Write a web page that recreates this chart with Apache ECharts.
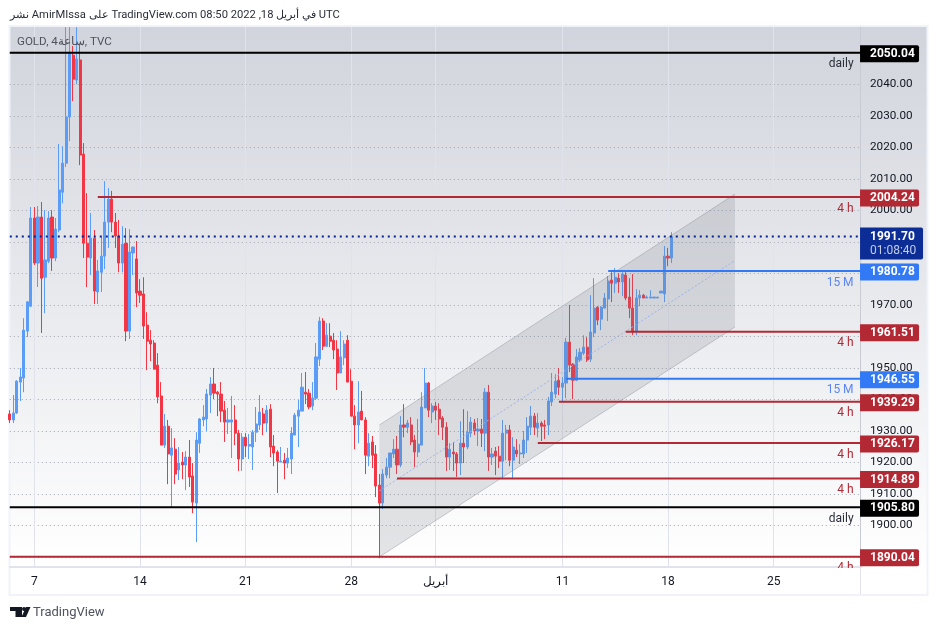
<!DOCTYPE html>
<html>
<head>
<meta charset="utf-8">
<title>GOLD</title>
<script src="https://cdn.jsdelivr.net/npm/echarts@6/dist/echarts.min.js"></script>
<style>
    html, body { margin: 0; padding: 0; background: #fff; }
    #chart { width: 938px; height: 630px; }
</style>
</head>
<body>
<div id="chart"></div>
<script>
var FONT = 'Roboto, "Noto Sans", sans-serif';

// candles
var opens = [
    1935.4, 1933.5, 1935.7, 1945.5, 1946.8, 1961.7, 1969.6, 1997.6, 1983.3, 1997.9,
    1978.8, 1983.9, 1997.9, 1984.9, 1993.8, 2005.8, 2015.0, 2029.7, 2049.3, 2041.4,
    2047.8, 2017.9, 1989.6, 1984.9, 1991.2, 1974.1, 1980.4, 1985.5, 1996.3, 2003.6,
    1996.3, 1991.9, 1983.3, 1989.6, 1961.7, 1986.5, 1984.6, 1974.4, 1973.5, 1963.6,
    1958.8, 1957.9, 1950.9, 1941.1, 1925.5, 1931.5, 1922.3, 1924.2, 1917.6, 1920.1,
    1919.2, 1921.7, 1915.7, 1907.1, 1926.1, 1933.5, 1933.8, 1941.4, 1944.9, 1942.3,
    1941.7, 1936.6, 1932.8, 1932.8, 1933.5, 1929.3, 1921.1, 1928.0, 1925.2, 1924.9,
    1929.6, 1931.9, 1935.4, 1932.5, 1936.9, 1925.2, 1923.3, 1920.1, 1920.7, 1919.8,
    1921.1, 1928.7, 1934.7, 1936.3, 1942.3, 1942.0, 1937.9, 1940.4, 1952.8, 1964.9,
    1956.9, 1960.1, 1958.8, 1956.0, 1948.4, 1953.2, 1958.8, 1945.8, 1934.7, 1931.9,
    1936.3, 1933.5, 1922.0, 1926.5, 1922.7, 1912.8, 1907.1, 1916.0, 1918.5, 1922.7,
    1924.2, 1919.2, 1931.9, 1931.2, 1931.9, 1927.1, 1923.3, 1925.5, 1937.3, 1945.2,
    1936.0, 1937.9, 1936.9, 1934.1, 1931.2, 1921.7, 1923.3, 1922.7, 1919.8, 1926.1,
    1924.9, 1929.3, 1932.5, 1930.0, 1930.6, 1929.3, 1942.3, 1921.7, 1923.6, 1922.0,
    1920.4, 1929.3, 1930.3, 1920.7, 1923.9, 1922.7, 1922.7, 1927.1, 1931.2, 1934.7,
    1930.9, 1932.5, 1931.9, 1931.9, 1939.2, 1941.7, 1946.1, 1943.9, 1945.2, 1958.2,
    1951.2, 1946.1, 1952.5, 1954.7, 1956.6, 1952.8, 1961.1, 1969.3, 1965.5, 1969.0,
    1971.9, 1977.9, 1976.9, 1978.5, 1977.3, 1979.5, 1972.5, 1969.0, 1961.7, 1972.2,
    1973.1, 1972.2, 1972.2, 1972.2, 1972.2, 1973.8, 1973.5, 1985.5, 1984.9
];
var closes = [
    1933.5, 1935.7, 1945.8, 1947.1, 1962.0, 1971.0, 1997.6, 1983.3, 1997.9, 1978.5,
    1984.3, 1997.6, 1984.9, 1994.1, 2006.5, 2015.0, 2029.7, 2050.3, 2041.7, 2048.1,
    2017.6, 1989.6, 1985.2, 1991.2, 1974.4, 1980.8, 1985.5, 1996.3, 2003.6, 1996.3,
    1991.9, 1983.3, 1989.3, 1961.7, 1986.8, 1988.4, 1973.8, 1973.1, 1963.3, 1958.5,
    1957.6, 1949.6, 1940.8, 1925.5, 1931.5, 1922.7, 1924.6, 1916.3, 1919.8, 1919.2,
    1921.7, 1915.4, 1907.4, 1927.1, 1933.8, 1934.4, 1941.7, 1944.9, 1942.0, 1941.7,
    1936.3, 1932.8, 1933.5, 1933.5, 1929.3, 1921.1, 1928.0, 1925.2, 1925.7, 1929.6,
    1932.2, 1936.0, 1932.5, 1936.6, 1924.9, 1923.0, 1920.4, 1920.4, 1919.8, 1921.4,
    1929.3, 1935.0, 1936.6, 1943.9, 1941.7, 1937.6, 1940.4, 1953.5, 1964.9, 1956.9,
    1960.4, 1958.5, 1955.7, 1948.4, 1953.5, 1957.6, 1945.5, 1934.7, 1931.9, 1936.0,
    1933.5, 1922.3, 1926.1, 1922.3, 1912.5, 1907.1, 1916.3, 1918.5, 1923.0, 1924.2,
    1919.2, 1931.9, 1931.2, 1932.5, 1926.5, 1923.3, 1925.8, 1937.6, 1945.2, 1936.6,
    1937.9, 1936.6, 1933.8, 1931.2, 1921.7, 1924.2, 1922.7, 1919.8, 1926.1, 1924.9,
    1929.6, 1932.8, 1930.0, 1930.6, 1929.3, 1942.3, 1921.7, 1922.7, 1922.0, 1920.4,
    1929.3, 1930.3, 1920.7, 1924.9, 1922.7, 1923.0, 1927.1, 1931.5, 1934.7, 1931.2,
    1932.5, 1931.5, 1931.5, 1939.5, 1942.3, 1945.8, 1943.9, 1945.2, 1958.2, 1950.9,
    1946.1, 1953.5, 1955.0, 1956.6, 1952.5, 1961.4, 1969.0, 1965.2, 1969.3, 1972.2,
    1977.6, 1976.9, 1978.8, 1977.3, 1979.8, 1972.2, 1969.0, 1961.4, 1972.2, 1973.1,
    1972.2, 1972.5, 1972.5, 1972.5, 1972.5, 1974.4, 1985.5, 1984.9, 1991.7
];
var lows = [
    1932.5, 1932.5, 1935.4, 1939.5, 1942.3, 1959.8, 1969.4, 1982.7, 1975.7, 1961.1,
    1967.4, 1983.3, 1980.8, 1983.9, 1993.1, 2002.3, 2013.8, 2022.0, 2034.7, 2040.1,
    2014.4, 1984.9, 1975.7, 1979.5, 1970.3, 1970.3, 1974.1, 1981.4, 1988.1, 1993.1,
    1988.1, 1980.4, 1980.4, 1958.5, 1959.2, 1979.5, 1969.3, 1970.6, 1959.2, 1949.3,
    1952.2, 1949.6, 1938.8, 1925.5, 1924.6, 1913.1, 1905.8, 1913.1, 1914.4, 1914.7,
    1911.2, 1912.2, 1903.9, 1894.7, 1923.0, 1931.5, 1930.0, 1935.7, 1940.1, 1934.7,
    1932.8, 1926.5, 1929.0, 1921.4, 1925.5, 1917.3, 1917.3, 1921.7, 1921.1, 1917.6,
    1926.5, 1930.3, 1928.7, 1929.6, 1921.7, 1918.8, 1910.3, 1920.1, 1914.7, 1918.2,
    1916.3, 1928.7, 1924.9, 1936.3, 1938.5, 1936.9, 1936.6, 1939.8, 1950.6, 1955.7,
    1956.6, 1956.6, 1952.8, 1943.0, 1948.4, 1950.9, 1945.5, 1934.7, 1924.2, 1926.1,
    1933.5, 1916.3, 1918.8, 1918.2, 1909.0, 1889.6, 1905.2, 1915.0, 1915.0, 1921.4,
    1916.3, 1918.5, 1928.0, 1929.3, 1925.5, 1918.5, 1921.7, 1925.5, 1937.3, 1934.4,
    1932.5, 1933.5, 1928.7, 1927.1, 1917.3, 1917.6, 1917.3, 1915.4, 1916.0, 1919.8,
    1924.2, 1928.0, 1928.7, 1925.2, 1924.9, 1923.6, 1917.3, 1919.2, 1916.0, 1918.2,
    1914.7, 1920.7, 1918.8, 1914.7, 1921.7, 1919.5, 1921.4, 1923.0, 1928.7, 1928.7,
    1928.0, 1926.8, 1927.4, 1928.7, 1937.9, 1940.4, 1941.4, 1939.5, 1940.4, 1948.7,
    1940.1, 1945.8, 1951.9, 1954.1, 1951.9, 1951.9, 1959.8, 1963.6, 1962.0, 1969.0,
    1964.9, 1970.9, 1973.8, 1973.8, 1972.8, 1971.5, 1965.8, 1960.4, 1960.4, 1969.6,
    1972.2, 1972.2, 1972.2, 1972.2, 1972.2, 1973.8, 1970.9, 1982.3, 1983.3
];
var highs = [
    1936.6, 1941.4, 1946.1, 1950.0, 1965.8, 1971.2, 2001.1, 2001.1, 2001.4, 2002.7,
    2000.1, 1999.8, 2000.1, 1997.6, 2021.1, 2020.4, 2058.2, 2058.2, 2052.2, 2058.2,
    2052.5, 2021.4, 2005.5, 1999.2, 1993.8, 1984.3, 1991.6, 2009.3, 2007.1, 2006.2,
    1999.2, 1997.0, 1995.0, 1994.4, 1994.1, 1988.4, 1990.3, 1978.2, 1978.8, 1967.7,
    1962.0, 1958.8, 1954.7, 1945.5, 1935.4, 1933.5, 1930.9, 1927.7, 1924.9, 1923.3,
    1923.6, 1927.1, 1919.8, 1929.6, 1934.1, 1938.2, 1943.3, 1947.1, 1950.0, 1942.7,
    1945.5, 1939.5, 1937.3, 1941.1, 1938.2, 1930.3, 1929.3, 1929.3, 1929.0, 1930.3,
    1937.6, 1941.4, 1937.3, 1938.2, 1938.5, 1928.7, 1923.9, 1924.9, 1923.0, 1924.6,
    1931.2, 1935.7, 1939.8, 1948.4, 1948.7, 1943.3, 1945.5, 1957.9, 1966.2, 1965.8,
    1964.2, 1964.2, 1961.1, 1958.8, 1961.7, 1958.8, 1960.4, 1949.6, 1938.2, 1945.8,
    1942.7, 1934.4, 1929.3, 1928.4, 1925.5, 1916.3, 1917.9, 1921.4, 1923.0, 1927.4,
    1928.4, 1934.7, 1938.5, 1933.5, 1934.4, 1928.7, 1933.8, 1942.3, 1950.0, 1945.5,
    1938.8, 1939.2, 1938.8, 1934.7, 1932.8, 1926.1, 1926.5, 1923.3, 1933.1, 1936.9,
    1936.3, 1934.4, 1933.8, 1934.1, 1933.8, 1943.6, 1944.6, 1924.6, 1924.9, 1925.2,
    1933.5, 1931.9, 1931.9, 1928.0, 1927.4, 1925.8, 1930.0, 1934.4, 1937.9, 1935.7,
    1935.7, 1933.1, 1933.5, 1940.8, 1948.4, 1948.0, 1950.0, 1947.1, 1959.5, 1970.0,
    1951.5, 1956.0, 1956.3, 1960.4, 1959.8, 1973.1, 1978.5, 1969.6, 1969.6, 1973.8,
    1979.2, 1980.4, 1981.7, 1980.1, 1980.4, 1980.4, 1978.5, 1979.8, 1975.0, 1974.7,
    1973.5, 1973.0, 1974.7, 1972.5, 1972.5, 1974.4, 1988.7, 1988.1, 1993.1
];

// time axis: 243 slots, date labels sit at these slots
var tickSlots = [7, 37, 67, 97, 121, 157, 187, 217];
var tickTexts = ['7', '14', '21', '28', 'أبريل', '11', '18', '25'];
var SLOT_COUNT = 243;

// horizontal levels
var levelPrices = [2050.04, 1905.80, 2004.24, 1980.78, 1961.51, 1946.55, 1939.29, 1926.17, 1914.89, 1890.04];
var levelStarts = [0, 0, 25, 170, 175, 158, 156, 150, 110, 0];
var levelTags = ['daily', 'daily', '4 h', '15 M', '4 h', '15 M', '4 h', '4 h', '4 h', '4 h'];
var levelColors = ['#000000', '#000000', '#b22833', '#2962ff', '#b22833', '#2962ff', '#b22833', '#b22833', '#b22833', '#b22833'];

var lastPrice = 1991.70;
var countdown = '01:08:40';

// parallel channel
var channelSlots = [105, 206];
var channelUpper = [1931.9, 2005.2];
var channelMiddle = [1911.0, 1984.1];
var channelLower = [1890.0, 1963.0];

var BLUE = '#5b9cf6', RED = '#f23645', LINE_BLUE = '#3179f5';

var categories = [];
for (var i = 0; i < SLOT_COUNT; i++) {
    var at = tickSlots.indexOf(i);
    categories.push(at >= 0 ? tickTexts[at] : '');
}

var candles = opens.map(function (o, i) {
    return [o, closes[i], lows[i], highs[i]];
});

function levelSeries(price, start, tag, color) {
    var lineColor = color === '#2962ff' ? LINE_BLUE : color;
    var tagColor = color === '#2962ff' ? '#5b86f0' : (color === '#000000' ? '#2a2e39' : color);
    return {
        type: 'line',
        z: 5,
        clip: false,
        silent: true,
        symbol: 'circle',
        symbolSize: 1,
        showSymbol: true,
        showAllSymbol: true,
        lineStyle: { color: lineColor, width: 2 },
        itemStyle: { color: 'transparent' },
        data: [
            { value: [start, price], label: { show: false } },
            {
                value: [240, price],
                label: {
                    show: true, position: 'bottom', align: 'right', verticalAlign: 'top',
                    distance: 5, offset: [-1, 0], formatter: tag,
                    color: tagColor, fontFamily: FONT, fontSize: 12
                }
            },
            {
                value: [SLOT_COUNT - 1, price],
                label: {
                    show: true, position: 'right', distance: 0, offset: [-2.1, 1],
                    formatter: price.toFixed(2), color: '#fff', fontFamily: FONT, fontSize: 12, fontWeight: 'bold',
                    backgroundColor: lineColor === '#000000' ? '#000' : lineColor,
                    borderRadius: [0, 2, 2, 0], padding: [2, 6, 2, 10], lineHeight: 13, width: 43
                }
            }
        ]
    };
}

var series = [
    {
        type: 'candlestick',
        z: 2,
        barWidth: 2.6,
        silent: true,
        itemStyle: { color: BLUE, color0: RED, borderColor: BLUE, borderColor0: RED, borderColorDoji: BLUE, borderWidth: 1 },
        data: candles
    },
    {
        type: 'custom',
        z: 3,
        silent: true,
        data: [0],
        renderItem: function (params, api) {
            var a = api.coord([channelSlots[0], channelUpper[0]]);
            var b = api.coord([channelSlots[1], channelUpper[1]]);
            var c = api.coord([channelSlots[1], channelLower[1]]);
            var d = api.coord([channelSlots[0], channelLower[0]]);
            var edge = { stroke: 'rgba(120,123,134,0.35)', lineWidth: 1 };
            return {
                type: 'group',
                children: [
                    { type: 'polygon', shape: { points: [a, b, c, d] }, style: { fill: 'rgba(120,123,134,0.2)' } },
                    { type: 'line', shape: { x1: a[0], y1: a[1], x2: b[0], y2: b[1] }, style: edge },
                    { type: 'line', shape: { x1: d[0], y1: d[1], x2: c[0], y2: c[1] }, style: edge }
                ]
            };
        }
    },
    {
        type: 'line',
        z: 3,
        silent: true,
        symbol: 'none',
        lineStyle: { color: '#a0b2ec', width: 1, type: [2, 2] },
        data: [[channelSlots[0], channelMiddle[0]], [channelSlots[1], channelMiddle[1]]]
    },
    {
        type: 'line',
        z: 6,
        clip: false,
        silent: true,
        symbol: 'circle',
        symbolSize: 1,
        showSymbol: true,
        showAllSymbol: true,
        lineStyle: { color: '#08248a', width: 2, type: [2, 4] },
        itemStyle: { color: 'transparent' },
        data: [
            { value: [0, lastPrice], label: { show: false } },
            {
                value: [SLOT_COUNT - 1, lastPrice],
                label: {
                    show: true, position: 'right', distance: 0, offset: [-2.1, 7],
                    formatter: '{a|' + lastPrice.toFixed(2) + '}\n{b|' + countdown + '}',
                    backgroundColor: '#0c2d96', borderRadius: [0, 2, 2, 0], padding: [2, 6, 2, 10], width: 47,
                    rich: {
                        a: { color: '#fff', fontFamily: FONT, fontSize: 12, fontWeight: 'bold', lineHeight: 14 },
                        b: { color: '#c3cde8', fontFamily: FONT, fontSize: 12, lineHeight: 14 }
                    }
                }
            }
        ]
    }
];
levelPrices.forEach(function (p, i) {
    series.push(levelSeries(p, levelStarts[i], levelTags[i], levelColors[i]));
});

var chart = echarts.init(document.getElementById('chart'), null, { renderer: 'canvas' });
chart.setOption({
    animation: false,
    backgroundColor: '#ffffff',
    title: [
        {
            text: 'نشر AmirMIssa على TradingView.com 08:50 2022 ,18 في أبريل UTC',
            left: 10, top: 10, padding: 0,
            textStyle: { color: '#2a2e39', fontFamily: FONT, fontSize: 11.2, fontWeight: 'normal' }
        },
        {
            text: 'GOLD, 4ساعة, TVC',
            left: 17, top: 36, padding: 0, z: 20,
            textStyle: { color: '#50535e', fontFamily: FONT, fontSize: 11.6, fontWeight: 'normal' }
        },
        {
            text: 'TradingView',
            left: 33, top: 606, padding: 0,
            textStyle: { color: '#50535e', fontFamily: FONT, fontSize: 13, fontWeight: 'normal' }
        }
    ],
    grid: { left: 9.8, width: 851.84, top: 27, height: 540 },
    xAxis: {
        type: 'category',
        data: categories,
        boundaryGap: false,
        axisLine: { lineStyle: { color: '#e0e3eb', width: 2 } },
        axisTick: { show: false },
        axisLabel: {
            interval: 0, margin: 9, color: '#131722', fontFamily: FONT, fontSize: 12,
            hideOverlap: false
        },
        splitLine: {
            show: true,
            interval: function (index) { return tickSlots.indexOf(index) >= 0; },
            lineStyle: { color: '#e0e3eb', width: 1 }
        }
    },
    yAxis: {
        type: 'value',
        position: 'right',
        offset: -1.6,
        min: 1886.8,
        max: 2058.25,
        splitNumber: 17,
        axisLine: { show: true, lineStyle: { color: '#c8cbd3' } },
        axisTick: { show: false },
        axisLabel: {
            margin: 10, color: '#131722', fontFamily: FONT, fontSize: 11.7,
            showMinLabel: false, showMaxLabel: false, padding: [4, 0, 0, 0],
            formatter: function (v) { return v.toFixed(2); }
        },
        splitLine: {
            show: true, showMinLine: false, showMaxLine: false,
            lineStyle: { color: '#a3a6af', width: 1, type: [1, 3] }
        }
    },
    graphic: [
        {
            type: 'rect', z: -10, silent: true,
            shape: { x: 10, y: 27, width: 917, height: 540 },
            style: {
                fill: new echarts.graphic.LinearGradient(0, 0, 0, 1, [
                    { offset: 0, color: '#d1d4dc' },
                    { offset: 1, color: '#ffffff' }
                ])
            }
        },
        {
            type: 'rect', z: -9, silent: true,
            shape: { x: 9.5, y: 26, width: 918, height: 569 },
            style: { fill: 'none', stroke: '#f0f3fa', lineWidth: 2 }
        },
        {
            type: 'line', z: -8, silent: true,
            shape: { x1: 860.5, y1: 567, x2: 860.5, y2: 594 },
            style: { stroke: '#e0e3eb', lineWidth: 1 }
        },
        {
            type: 'rect', z: 50, silent: true,
            shape: { x: 780, y: 568, width: 79, height: 6 },
            style: { fill: '#ffffff' }
        },
        {
            type: 'polygon', z: 50, silent: true,
            shape: { points: [[10, 607], [22, 607], [22, 617], [15.5, 617], [15.5, 611], [10, 611]] },
            style: { fill: '#131722' }
        },
        {
            type: 'circle', z: 50, silent: true,
            shape: { cx: 24, cy: 609, r: 2 },
            style: { fill: '#131722' }
        },
        {
            type: 'polygon', z: 50, silent: true,
            shape: { points: [[26, 607], [30.5, 607], [26, 617], [21.5, 617]] },
            style: { fill: '#131722' }
        }
    ],
    series: series
});
</script>
</body>
</html>
